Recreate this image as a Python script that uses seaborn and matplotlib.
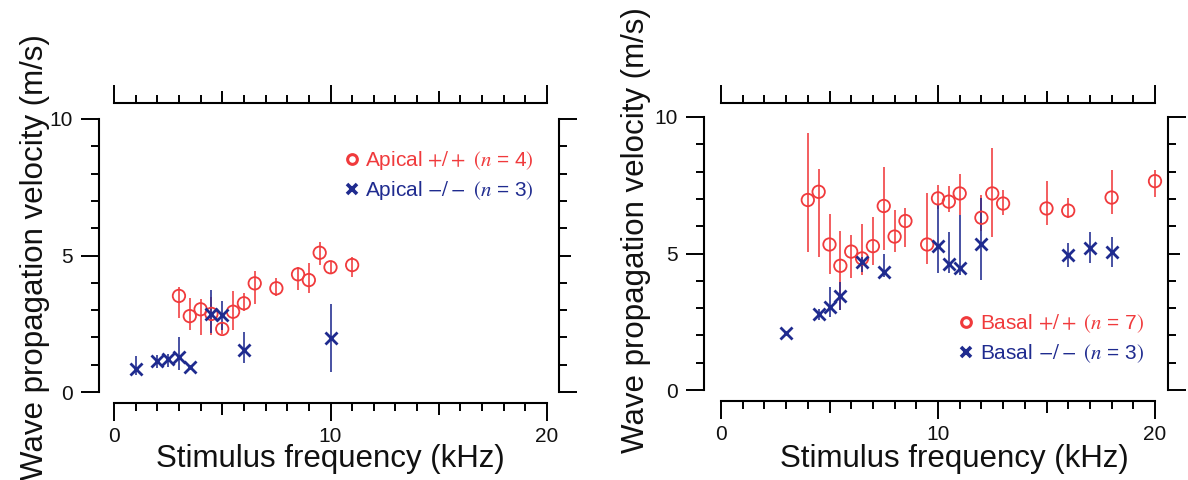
import numpy as np
import pandas as pd
import matplotlib
matplotlib.use("Agg")
import matplotlib.pyplot as plt
import seaborn as sns
from matplotlib.lines import Line2D
from matplotlib.ticker import FixedLocator, MultipleLocator

# ---------------- data ----------------
apical_wt_freq = [3, 3.5, 4, 4.5, 5, 5.5, 6, 6.5, 7.5, 8.5, 9, 9.5, 10, 11]
apical_wt_vel = [3.52, 2.78, 3.03, 2.86, 2.31, 2.94, 3.25, 3.98, 3.8, 4.31, 4.1, 5.1, 4.57, 4.65]
apical_wt_lo = [0.82, 0.51, 0.94, 0.77, 0.2, 0.67, 0.3, 0.76, 0.3, 0.57, 0.46, 0.45, 0.2, 0.45]
apical_wt_hi = [0.34, 0.65, 0.38, 0.63, 0.2, 0.76, 0.37, 0.46, 0.37, 0.28, 0.61, 0.38, 0.2, 0.28]

apical_ko_freq = [1, 2, 2.5, 3, 3.5, 4.5, 5, 6, 10]
apical_ko_vel = [0.83, 1.15, 1.21, 1.29, 0.9, 2.86, 2.82, 1.54, 1.96]
apical_ko_lo = [0.21, 0.28, 0.28, 0.49, 0.0, 0.71, 0.55, 0.49, 1.22]
apical_ko_hi = [0.49, 0.21, 0.2, 0.73, 0.0, 0.88, 0.52, 0.67, 1.28]

basal_wt_freq = [4, 4.5, 5, 5.5, 6, 6.5, 7, 7.5, 8, 8.5, 9.5, 10, 10.5, 11,
                 12, 12.5, 13, 15, 16, 18, 20]
basal_wt_vel = [6.96, 7.26, 5.33, 4.55, 5.07, 4.82, 5.27, 6.74, 5.62, 6.19, 5.33,
                7.02, 6.9, 7.2, 6.31, 7.2, 6.83, 6.65, 6.57, 7.05, 7.65]
basal_wt_lo = [1.89, 2.38, 1.09, 1.62, 0.98, 0.61, 0.7, 1.61, 0.55, 0.96, 0.7,
               0.4, 0.37, 0.79, 0.5, 1.59, 0.43, 0.61, 0.28, 0.6, 0.57]
basal_wt_hi = [2.44, 0.85, 1.11, 1.27, 0.61, 1.26, 1.05, 1.42, 0.98, 0.49, 1.89,
               0.49, 0.57, 0.73, 0.83, 1.65, 0.49, 1.01, 0.45, 1.01, 0.4]

basal_ko_freq = [3, 4.5, 5, 5.5, 6.5, 7.5, 10, 10.5, 11, 12, 16, 17, 18]
basal_ko_vel = [2.07, 2.77, 3.05, 3.44, 4.68, 4.33, 5.27, 4.6, 4.46, 5.35, 4.94, 5.19, 5.04]
basal_ko_lo = [0.0, 0.2, 0.37, 0.5, 0.34, 0.18, 1.0, 0.33, 0.24, 1.32, 0.43, 0.52, 0.52]
basal_ko_hi = [0.0, 0.2, 0.73, 0.52, 0.2, 0.67, 1.5, 1.17, 1.95, 1.67, 0.43, 0.61, 0.55]

x_ticks = [0, 5, 10, 15, 20]
x_ticklabels = ["0", "", "10", "", "20"]
y_ticks = [0, 5, 10]
y_ticklabels = ["0", "5", "10"]

xlabel = "Stimulus frequency (kHz)"
ylabel = "Wave propagation velocity (m/s)"
legend_apical = [r"Apical $+/+\ (n$ = 4$)$", r"Apical $-/-\ (n$ = 3$)$"]
legend_basal = [r"Basal $+/+\ (n$ = 7$)$", r"Basal $-/-\ (n$ = 3$)$"]

RED = "#f03a3c"
BLUE = "#1f2b8f"

# ---------------- style ----------------
sns.set_theme(style="white")
plt.rcParams["font.family"] = ["Liberation Sans", "DejaVu Sans"]
plt.rcParams["mathtext.fontset"] = "stix"

fig = plt.figure(figsize=(11.88, 4.8), dpi=100)
W, H = 1188, 480


def px_axes(x0, x1, ytop, ybot):
    return fig.add_axes([x0 / W, 1 - ybot / H, (x1 - x0) / W, (ybot - ytop) / H])


ax1 = px_axes(114, 547, 119, 392)
ax2 = px_axes(721, 1155, 117, 390)

PX = 72 / 100  # points per pixel


def draw_series(ax, fx, vy, lo, hi, color, marker):
    df = pd.DataFrame({"f": fx, "v": vy})
    ax.errorbar(fx, vy, yerr=[lo, hi], fmt="none", ecolor=color,
                elinewidth=1.15, capsize=0, clip_on=False, zorder=2)
    if marker == "o":
        sns.scatterplot(data=df, x="f", y="v", ax=ax, marker="o", s=80,
                        facecolor="none", edgecolor=color, linewidth=1.3,
                        clip_on=False, zorder=3, legend=False)
    else:
        sns.scatterplot(data=df, x="f", y="v", ax=ax, marker="x", s=75,
                        color=color, linewidth=2.0, clip_on=False, zorder=3,
                        legend=False)


def style_axes(ax, off, ylab_xy, xlab_xy):
    ax.set_xlim(0, 20)
    ax.set_ylim(0, 10)
    for side in ["left", "right", "top", "bottom"]:
        sp = ax.spines[side]
        sp.set_visible(True)
        sp.set_color("black")
        sp.set_linewidth(1.5)
        sp.set_position(("outward", off[side] * PX))
    ax.spines["left"].set_bounds(0, 10)
    ax.spines["right"].set_bounds(0, 10)
    ax.spines["top"].set_bounds(0, 20)
    ax.spines["bottom"].set_bounds(0, 20)
    ax.xaxis.set_major_locator(FixedLocator(x_ticks))
    ax.xaxis.set_minor_locator(MultipleLocator(1))
    ax.yaxis.set_major_locator(FixedLocator(y_ticks))
    ax.yaxis.set_minor_locator(MultipleLocator(1))
    ax.set_xticklabels(x_ticklabels)
    ax.set_yticklabels(y_ticklabels)
    ax.tick_params(which="both", direction="out", top=True, right=True,
                   bottom=True, left=True, labeltop=False, labelright=False,
                   width=1.4, color="black")
    ax.tick_params(which="major", length=13, pad=6, labelsize=15,
                   labelcolor="#111111")
    ax.tick_params(axis="x", which="major", pad=4.5)
    ax.tick_params(which="minor", length=5.5)
    ax.set_xlabel(xlabel, fontsize=22.5, color="#111111")
    ax.set_ylabel(ylabel, fontsize=22.5, color="#111111")
    ax.xaxis.set_label_coords(*xlab_xy)
    ax.yaxis.set_label_coords(*ylab_xy)
    ax.xaxis.label.set_va("top")
    # medium-length ticks at 5 and 15 kHz and at 5 m/s on the right axis
    xt = ax.xaxis.get_major_ticks(len(x_ticks))
    for t, loc in zip(xt, x_ticks):
        if loc in (5, 15):
            t.tick1line.set_markersize(8.6)
            t.tick2line.set_markersize(8.6)
    yt = ax.yaxis.get_major_ticks(len(y_ticks))
    yt[1].tick2line.set_markersize(8.6)
    ax.set_facecolor("white")


draw_series(ax1, apical_wt_freq, apical_wt_vel, apical_wt_lo, apical_wt_hi, RED, "o")
draw_series(ax1, apical_ko_freq, apical_ko_vel, apical_ko_lo, apical_ko_hi, BLUE, "x")
draw_series(ax2, basal_wt_freq, basal_wt_vel, basal_wt_lo, basal_wt_hi, RED, "o")
draw_series(ax2, basal_ko_freq, basal_ko_vel, basal_ko_lo, basal_ko_hi, BLUE, "x")

style_axes(ax1, {"left": 15, "bottom": 11, "top": 16, "right": 12},
           (-0.148, 0.495), (0.5, -0.192))
style_axes(ax2, {"left": 17, "bottom": 11, "top": 14, "right": 13},
           (-0.162, 0.586), (0.537, -0.197))


def make_handles():
    return [Line2D([], [], ls="", marker="o", mfc="none", mec=RED, mew=2.2, ms=7),
            Line2D([], [], ls="", marker="x", color=BLUE, mew=2.6, ms=7)]


leg1 = ax1.legend(make_handles(), legend_apical, loc="upper right",
                  bbox_to_anchor=(0.97, 0.89), frameon=False, fontsize=15,
                  handlelength=0.6, handletextpad=0.35, labelspacing=0.35,
                  borderpad=0, borderaxespad=0, labelcolor=[RED, BLUE])
leg2 = ax2.legend(make_handles(), legend_basal, loc="lower right",
                  bbox_to_anchor=(0.975, 0.09), frameon=False, fontsize=15,
                  handlelength=0.6, handletextpad=0.35, labelspacing=0.35,
                  borderpad=0, borderaxespad=0, labelcolor=[RED, BLUE])

fig.savefig("out.png", dpi=100, facecolor="white")
